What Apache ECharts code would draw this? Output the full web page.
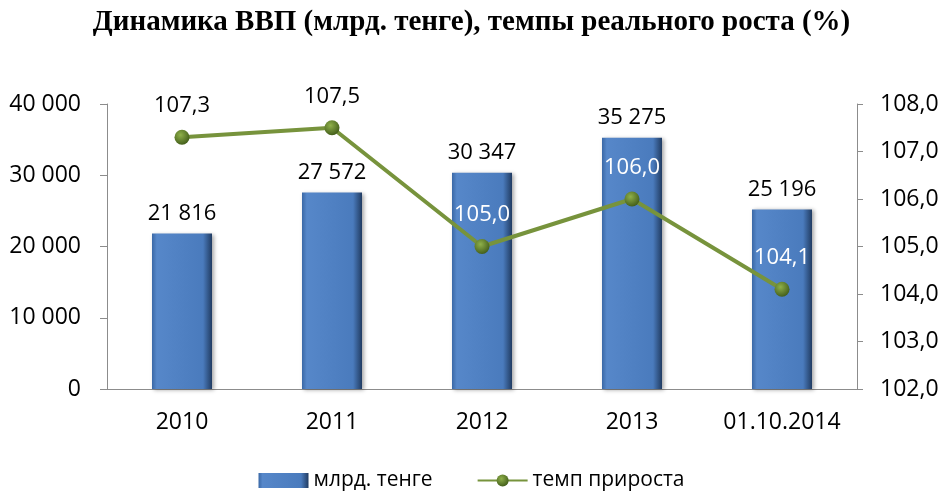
<!DOCTYPE html>
<html>
<head>
<meta charset="utf-8">
<script src="https://cdn.jsdelivr.net/npm/echarts@6/dist/echarts.min.js"></script>
<style>
  html, body { margin: 0; padding: 0; background: #fff; }
  #chart { width: 943px; height: 491px; }
</style>
</head>
<body>
<div id="chart"></div>
<script>
  const categories = ['2010', '2011', '2012', '2013', '01.10.2014'];
  const gdpValues = [21816, 27572, 30347, 35275, 25196];
  const growthValues = [107.3, 107.5, 105.0, 106.0, 104.1];
  // first two growth labels sit above the bars, the rest are drawn on them in white
  const growthLabelColors = ['#000', '#000', '#fff', '#fff', '#fff'];

  const fmtThousands = (v) => String(Math.round(v)).replace(/\B(?=(\d{3})+(?!\d))/g, ' ');
  const fmtComma = (v) => v.toFixed(1).replace('.', ',');

  const labelFont = '"Open Sans", "Noto Sans", sans-serif';

  const chart = echarts.init(document.getElementById('chart'));

  chart.setOption({
    animation: false,
    title: {
      text: 'Динамика ВВП (млрд. тенге), темпы реального роста (%)',
      left: 'center',
      top: 3,
      textStyle: {
        fontFamily: '"Liberation Serif", serif',
        fontWeight: 'bold',
        fontSize: 29,
        color: '#000',
      },
    },
    legend: {
      top: 465,
      left: 'center',
      itemGap: 44,
      itemWidth: 50,
      itemHeight: 15,
      textStyle: { fontFamily: labelFont, fontSize: 21, color: '#000' },
      data: [
        { name: 'млрд. тенге', icon: 'rect' },
        { name: 'темп прироста' },
      ],
    },
    grid: { left: 107, right: 86, top: 104, bottom: 102 },
    xAxis: {
      type: 'category',
      data: categories,
      axisLine: { lineStyle: { color: '#8c8c8c', width: 1 } },
      axisTick: { show: false },
      axisLabel: { interval: 0, fontFamily: labelFont, fontSize: 23, color: '#000', margin: 22 },
    },
    yAxis: [
      {
        type: 'value',
        min: 0,
        max: 40000,
        interval: 10000,
        splitLine: { show: false },
        axisLine: { show: true, lineStyle: { color: '#8c8c8c' } },
        axisTick: { show: true, length: 7, lineStyle: { color: '#8c8c8c' } },
        axisLabel: {
          fontFamily: labelFont, fontSize: 23, color: '#000', margin: 26,
          formatter: fmtThousands,
        },
      },
      {
        type: 'value',
        min: 102,
        max: 108,
        interval: 1,
        splitLine: { show: false },
        axisLine: { show: true, lineStyle: { color: '#8c8c8c' } },
        axisTick: { show: true, length: 6, lineStyle: { color: '#8c8c8c' } },
        axisLabel: {
          fontFamily: labelFont, fontSize: 23, color: '#000', margin: 23,
          formatter: fmtComma,
        },
      },
    ],
    series: [
      {
        name: 'млрд. тенге',
        type: 'bar',
        barWidth: 60,
        data: gdpValues,
        itemStyle: {
          color: new echarts.graphic.LinearGradient(0, 0, 1, 0, [
            { offset: 0, color: '#3a68a6' },
            { offset: 0.08, color: '#5687c9' },
            { offset: 0.85, color: '#4a7bbd' },
            { offset: 1, color: '#213c62' },
          ]),
          shadowColor: 'rgba(0,0,0,0.35)',
          shadowBlur: 4,
          shadowOffsetX: 2,
          shadowOffsetY: 1,
        },
        label: {
          show: true,
          position: 'top',
          distance: 9,
          fontFamily: labelFont,
          fontSize: 22,
          color: '#000',
          formatter: (p) => fmtThousands(p.value),
        },
      },
      {
        name: 'темп прироста',
        type: 'line',
        yAxisIndex: 1,
        data: growthValues.map((v, i) => ({
          value: v,
          label: { color: growthLabelColors[i] },
        })),
        symbol: 'circle',
        symbolSize: 15,
        lineStyle: { color: '#77933c', width: 4 },
        itemStyle: {
          color: new echarts.graphic.RadialGradient(0.4, 0.35, 0.7, [
            { offset: 0, color: '#8fb04a' },
            { offset: 1, color: '#3f5a18' },
          ]),
          borderWidth: 0,
        },
        label: {
          show: true,
          position: 'top',
          distance: 13,
          fontFamily: labelFont,
          fontSize: 22,
          formatter: (p) => fmtComma(p.value),
        },
      },
    ],
  });
</script>
</body>
</html>
